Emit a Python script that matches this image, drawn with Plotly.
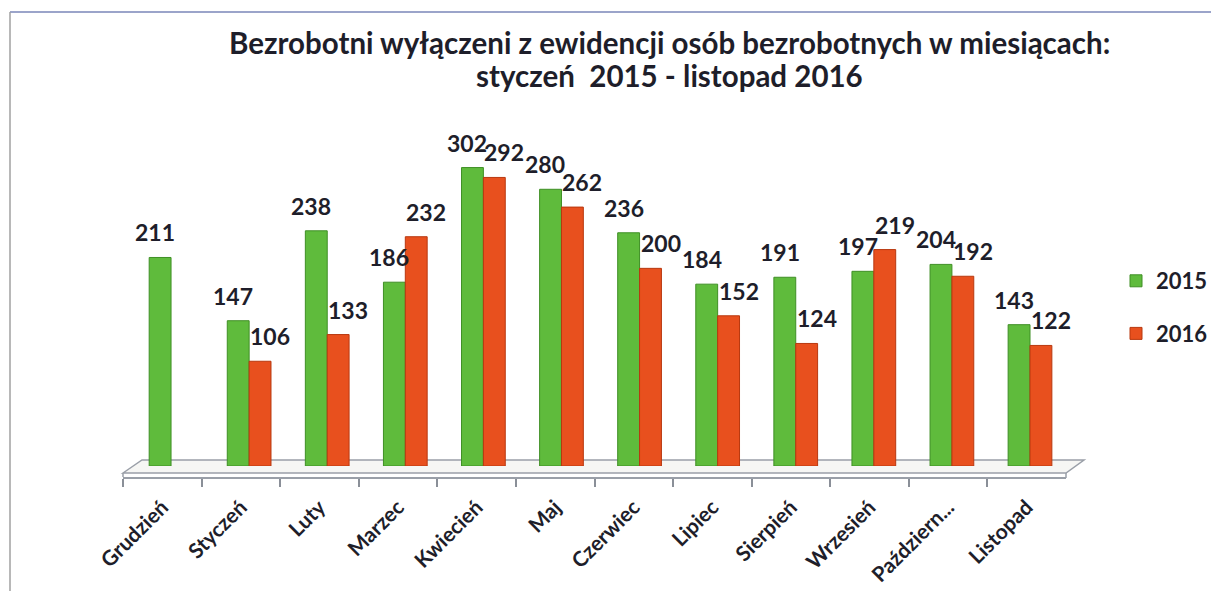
import plotly.graph_objects as go

categories = ["Grudzień", "Styczeń", "Luty", "Marzec", "Kwiecień", "Maj",
              "Czerwiec", "Lipiec", "Sierpień", "Wrzesień", "Październ...", "Listopad"]
v2015 = [211, 147, 238, 186, 302, 280, 236, 184, 191, 197, 204, 143]
v2016 = [None, 106, 133, 232, 292, 262, 200, 152, 124, 219, 192, 122]
series_names = ["2015", "2016"]
title_lines = ["Bezrobotni wyłączeni z ewidencji osób bezrobotnych w miesiącach:",
               "styczeń  2015 - listopad 2016"]

# the page body adds an 8px offset, so the figure is drawn 8px smaller
OFF = 8
W, H = 1219 - OFF, 591 - OFF


def px_x(x):
    return (x - OFF) / W


def px_y(y):
    return (H - (y - OFF)) / H


FONT = "Lato"
DARK = "#1e1e2a"
GREEN = "#5fbb3c"
GREEN_D = "#3f8f25"
RED = "#e8501e"
RED_D = "#b8380f"
GRAY = "#9a9fa8"

fig = go.Figure()
fig.add_trace(go.Bar(name=series_names[0], x=categories, y=v2015,
                     marker=dict(color=GREEN, line=dict(color=GREEN_D, width=1)),
                     legendgroup="a", hoverinfo="x+y"))
fig.add_trace(go.Bar(name=series_names[1], x=categories, y=v2016,
                     marker=dict(color=RED, line=dict(color=RED_D, width=1)),
                     legendgroup="b", hoverinfo="x+y"))
# invisible trace carrying the front (floor) category axis
fig.add_trace(go.Scatter(x=categories, y=[0] * len(categories), xaxis="x2", yaxis="y2",
                         mode="markers", marker=dict(opacity=0), showlegend=False,
                         hoverinfo="skip"))

annotations = []
for vals, xs in ((v2015, -16), (v2016, 21)):
    for c, v in zip(categories, vals):
        if v is None:
            continue
        annotations.append(dict(x=c, y=v, xref="x", yref="y", text=str(v),
                                showarrow=False, xshift=xs, yshift=25,
                                yanchor="middle",
                                font=dict(family=FONT, size=23, color=DARK, weight="bold")))
for line, yc in zip(title_lines, (42, 75)):
    annotations.append(dict(x=px_x(669), y=px_y(yc), xref="paper", yref="paper",
                            text=line, showarrow=False, xanchor="center", yanchor="middle",
                            font=dict(family=FONT, size=29.5, color=DARK, weight="bold")))

floor_path = ("M {a},{b} L {c},{d} L {e},{d} L {f},{b} Z").format(
    a=px_x(123), b=px_y(473), c=px_x(142), d=px_y(460), e=px_x(1084), f=px_x(1066))

shapes = [
    dict(type="path", path=floor_path, xref="paper", yref="paper",
         line=dict(color=GRAY, width=1.5), fillcolor="#f6f6f4", layer="below"),
    dict(type="line", xref="paper", yref="paper", x0=px_x(123), x1=px_x(123),
         y0=px_y(473), y1=px_y(477), line=dict(color=GRAY, width=1.5)),
    dict(type="line", xref="paper", yref="paper", x0=px_x(1066), x1=px_x(1066),
         y0=px_y(473), y1=px_y(478), line=dict(color=GRAY, width=1.5)),
    # page frame
    dict(type="line", xref="paper", yref="paper", x0=px_x(10), x1=1,
         y0=px_y(12), y1=px_y(12), line=dict(color="#7a86b8", width=1.5)),
    dict(type="line", xref="paper", yref="paper", x0=px_x(10), x1=px_x(10),
         y0=px_y(12), y1=0, line=dict(color="#a0a0a0", width=1.5)),
]

fig.update_layout(
    width=W, height=H,
    margin=dict(l=0, r=0, t=0, b=0, pad=0),
    paper_bgcolor="white", plot_bgcolor="rgba(0,0,0,0)",
    barmode="group", bargap=0.44, bargroupgap=0,
    xaxis=dict(domain=[px_x(132), px_x(1073)], showticklabels=False, ticks="",
               showline=False, showgrid=False, zeroline=False, automargin=False),
    yaxis=dict(domain=[px_y(466), px_y(130)], range=[0, 340], visible=False,
               automargin=False),
    xaxis2=dict(domain=[px_x(123), px_x(1066)], anchor="y2", type="category",
                categoryarray=categories, range=[-0.5, len(categories) - 0.5],
                showline=True, linecolor=GRAY, linewidth=1.5,
                ticks="outside", tickson="boundaries", ticklen=8, tickcolor="#8a8f98",
                tickwidth=1.5, tickangle=-45, showgrid=False, automargin=False,
                ticklabelstandoff=8,
                tickfont=dict(family=FONT, size=21, color=DARK, weight="bold")),
    yaxis2=dict(domain=[px_y(477), px_y(466)], range=[0, 1], visible=False,
                automargin=False),
    legend=dict(x=px_x(1116), y=px_y(260), xanchor="left", yanchor="top",
                traceorder="grouped", tracegroupgap=21, bgcolor="rgba(0,0,0,0)",
                font=dict(family=FONT, size=22, color=DARK, weight="bold")),
    annotations=annotations,
    shapes=shapes,
    showlegend=True,
)

fig.write_html("out.html")
